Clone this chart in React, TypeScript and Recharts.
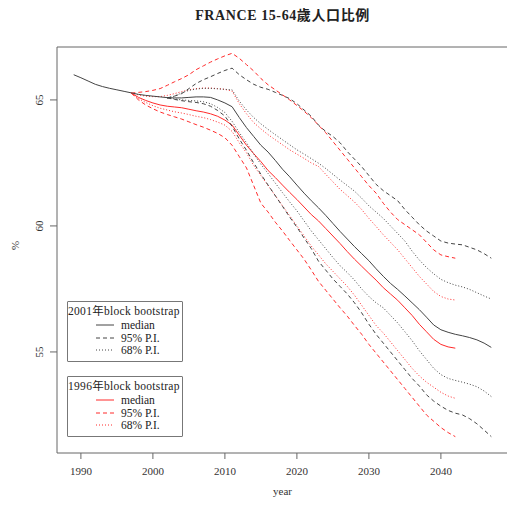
import { LineChart, Line, XAxis, YAxis, ReferenceArea, Legend } from 'recharts';

// annual points, black run 1989-2047, red (1996 model) 1997-2042, black intervals 2002-2047
const blackYears = Array.from({ length: 59 }, (_, i) => 1989 + i);
const redStart = 1997;
const bandStart = 2002;

const blackMedian = [
    66.0, 65.88, 65.75, 65.62, 65.53, 65.46, 65.4, 65.34, 65.28, 65.22,
    65.18, 65.15, 65.12, 65.09, 65.08, 65.08, 65.1, 65.12, 65.12, 65.1,
    65.0, 64.88, 64.73, 64.3, 63.9, 63.55, 63.2, 62.93, 62.6, 62.25,
    61.95, 61.62, 61.3, 61.0, 60.72, 60.42, 60.1, 59.78, 59.48, 59.18,
    58.9, 58.62, 58.3, 58.0, 57.72, 57.48, 57.22, 56.95, 56.68, 56.38,
    56.07, 55.88, 55.78, 55.7, 55.64, 55.57, 55.48, 55.35, 55.18,
];
const black95Up = [
    65.08, 65.15, 65.25, 65.45, 65.65, 65.8, 65.92, 66.05, 66.17, 66.26,
    66.0, 65.8, 65.62, 65.5, 65.42, 65.3, 65.18, 65.05, 64.85, 64.6,
    64.35, 64.0, 63.75, 63.55, 63.3, 62.95, 62.65, 62.35, 62.0, 61.65,
    61.4, 61.2, 61.0, 60.65, 60.35, 60.05, 59.8, 59.6, 59.4, 59.32,
    59.28, 59.25, 59.15, 59.05, 58.9, 58.72,
];
const black68Up = [
    65.08, 65.15, 65.28, 65.38, 65.43, 65.46, 65.46, 65.44, 65.42, 65.4,
    64.95, 64.6, 64.3, 64.05, 63.83, 63.62, 63.42, 63.22, 63.02, 62.85,
    62.67, 62.49, 62.28, 62.05, 61.82, 61.6, 61.38, 61.1, 60.8, 60.55,
    60.3, 60.0, 59.7, 59.4, 59.0, 58.65, 58.35, 58.1, 57.88, 57.75,
    57.65, 57.58, 57.48, 57.35, 57.22, 57.1,
];
const black68Low = [
    65.08, 65.04, 65.0, 64.98, 64.96, 64.93, 64.85, 64.7, 64.5, 64.15,
    63.7, 63.3, 62.85, 62.45, 62.08, 61.7, 61.32, 60.95, 60.6, 60.2,
    59.8, 59.45, 59.1, 58.75, 58.42, 58.15, 57.85, 57.5, 57.2, 56.95,
    56.75, 56.45, 56.15, 55.8, 55.45, 55.05, 54.7, 54.35, 54.1, 53.95,
    53.87, 53.8, 53.72, 53.62, 53.45, 53.23,
];
const black95Low = [
    65.08, 65.02, 64.97, 64.93, 64.9, 64.85, 64.75, 64.58, 64.36, 63.95,
    63.45, 63.0, 62.5, 62.05, 61.62, 61.2, 60.78, 60.35, 59.95, 59.52,
    59.1, 58.6, 58.25, 57.9, 57.6, 57.3, 56.95, 56.55, 56.1, 55.7,
    55.35, 55.0, 54.65, 54.3, 53.95, 53.65, 53.3, 53.05, 52.85, 52.68,
    52.57, 52.5, 52.35, 52.15, 51.9, 51.64,
];

const redMedian = [
    65.27, 65.1, 64.98, 64.88, 64.8, 64.75, 64.72, 64.69, 64.63, 64.57,
    64.52, 64.45, 64.35, 64.2, 64.0, 63.6, 63.2, 62.87, 62.55, 62.2,
    61.92, 61.62, 61.33, 61.05, 60.75, 60.45, 60.2, 59.9, 59.6, 59.3,
    58.98, 58.68, 58.4, 58.12, 57.85, 57.55, 57.3, 57.05, 56.75, 56.45,
    56.1, 55.8, 55.5, 55.3, 55.2, 55.15,
];
const red95Up = [
    65.27, 65.3, 65.33, 65.38, 65.45, 65.58, 65.72, 65.85, 66.0, 66.2,
    66.35, 66.5, 66.63, 66.75, 66.85, 66.65, 66.4, 66.15, 65.85, 65.6,
    65.4, 65.2, 65.0, 64.78, 64.55, 64.3, 64.0, 63.7, 63.35, 63.0,
    62.65, 62.3, 61.95, 61.6, 61.3, 60.9, 60.55, 60.25, 60.05, 59.85,
    59.65, 59.35, 59.05, 58.85, 58.78, 58.72,
];
const red68Up = [
    65.27, 65.2, 65.15, 65.13, 65.13, 65.18, 65.25, 65.33, 65.4, 65.45,
    65.47, 65.47, 65.45, 65.42, 65.35, 64.85, 64.45, 64.1, 63.85, 63.62,
    63.42, 63.22, 63.02, 62.85, 62.68, 62.5, 62.36, 62.05, 61.75, 61.45,
    61.2, 60.95, 60.65, 60.3, 59.98, 59.65, 59.35, 59.05, 58.7, 58.35,
    58.0, 57.7, 57.4, 57.2, 57.1, 57.06,
];
const red68Low = [
    65.27, 65.05, 64.9, 64.77, 64.67, 64.6, 64.53, 64.48, 64.42, 64.35,
    64.3, 64.22, 64.12, 64.0, 63.75, 63.3, 62.9, 62.4, 62.0, 61.6,
    61.2, 60.8, 60.4, 60.0, 59.6, 59.2, 58.85, 58.5, 58.2, 57.9,
    57.6, 57.25, 56.85, 56.45, 56.05, 55.75, 55.4, 55.05, 54.7, 54.35,
    54.05, 53.8, 53.6, 53.4, 53.25, 53.16,
];
const red95Low = [
    65.27, 65.0, 64.8, 64.65, 64.52, 64.42, 64.33, 64.24, 64.13, 64.02,
    63.92, 63.8, 63.67, 63.5, 63.2, 62.75, 62.3, 61.6, 60.9, 60.55,
    60.15, 59.8, 59.42, 59.05, 58.68, 58.25, 57.8, 57.45, 57.1, 56.75,
    56.42, 56.05, 55.7, 55.3, 54.95, 54.6, 54.25, 53.9, 53.55, 53.2,
    52.85, 52.5, 52.25, 52.0, 51.8, 51.64,
];

const xTicks = [1990, 2000, 2010, 2020, 2030, 2040];
const yTicks = [55, 60, 65];

const pick = (arr: number[], start: number, yr: number) => {
    const v = arr[yr - start];
    return v === undefined ? null : v;
};

const rows = blackYears.map((yr, i) => ({
    year: yr,
    bMed: blackMedian[i],
    b95u: pick(black95Up, bandStart, yr),
    b68u: pick(black68Up, bandStart, yr),
    b68l: pick(black68Low, bandStart, yr),
    b95l: pick(black95Low, bandStart, yr),
    rMed: pick(redMedian, redStart, yr),
    r95u: pick(red95Up, redStart, yr),
    r68u: pick(red68Up, redStart, yr),
    r68l: pick(red68Low, redStart, yr),
    r95l: pick(red95Low, redStart, yr),
}));

const X_DOMAIN: [number, number] = [1986.68, 2049.32];
const Y_DOMAIN: [number, number] = [50.99, 67.1];

const SERIF = '"Liberation Serif", "DejaVu Serif", "Noto Sans CJK TC", serif';
const INK = '#333';
const BLACK = '#444';
const RED = '#ff2a2a';
const DASH = '4 3';
const DOT = '1 2';

const YTick = ({ x, y, payload }: any) => (
    <text x={x} y={y} transform={`rotate(-90 ${x} ${y})`} textAnchor="middle"
        fontFamily={SERIF} fontSize={11} fill={INK}>{payload.value}</text>
);

const Sample = ({ color, dash }: { color: string; dash?: string }) => (
    <svg width={18} height={6} style={{ position: 'absolute', left: 28, top: -3 }}>
        <line x1={0} y1={3} x2={18} y2={3} stroke={color} strokeWidth={1} strokeDasharray={dash} />
    </svg>
);

const LegendBox = ({ title, color, top }: { title: string; color: string; top: number }) => {
    const entries = [
        { label: 'median', dash: undefined, y: 24 },
        { label: '95% P.I.', dash: DASH, y: 37 },
        { label: '68% P.I.', dash: DOT, y: 49 },
    ];
    return (
        <div style={{
            position: 'absolute', left: 0, top, width: 116, height: 61, boxSizing: 'border-box',
            border: '1px solid #777', borderRadius: 1, background: '#fff',
            fontFamily: SERIF, fontSize: 11.5, color: '#222', lineHeight: '12px', whiteSpace: 'nowrap'
        }}>
            <div style={{ position: 'absolute', left: 0, top: 3, letterSpacing: 0.3 }}>{title}</div>
            {entries.map((e) => (
                <div key={e.label} style={{ position: 'absolute', left: 0, top: e.y - 1 }}>
                    <Sample color={color} dash={e.dash} />
                    <span style={{ position: 'absolute', left: 53, top: -6 }}>{e.label}</span>
                </div>
            ))}
        </div>
    );
};

const renderLegend = () => (
    <div style={{ position: 'relative', width: 116, height: 137 }}>
        <LegendBox title="2001年block bootstrap" color={BLACK} top={0} />
        <LegendBox title="1996年block bootstrap" color={RED} top={75} />
    </div>
);

export default function App() {
    return (
        <div style={{ position: 'absolute', left: 0, top: 0, width: 507, height: 508, overflow: 'hidden', background: '#fff' }}>
            <div style={{
                position: 'absolute', left: 57, top: 4, width: 451, textAlign: 'center',
                fontFamily: SERIF, fontSize: 14, fontWeight: 'bold', letterSpacing: 0.6, color: '#222'
            }}>
                FRANCE 15-64歲人口比例
            </div>
            <LineChart width={520} height={508} data={rows} margin={{ top: 47, right: 12, bottom: 0, left: 0 }}>
                <XAxis dataKey="year" type="number" domain={X_DOMAIN} ticks={xTicks} allowDataOverflow
                    height={55} axisLine={false} tickLine={{ stroke: '#666' }} tickSize={6} tickMargin={8}
                    tick={{ fontSize: 11, fill: INK, fontFamily: SERIF }}
                    label={{ value: 'year', position: 'insideBottom', offset: 13, fontSize: 11, fill: INK, fontFamily: SERIF }} />
                <YAxis type="number" domain={Y_DOMAIN} ticks={yTicks} allowDataOverflow width={57}
                    axisLine={false} tickLine={{ stroke: '#666' }} tickSize={7} tickMargin={7} tick={<YTick />}
                    label={{ value: '%', angle: -90, position: 'insideLeft', offset: 15, fontSize: 11, fill: INK, fontFamily: SERIF }} />
                <ReferenceArea x1={X_DOMAIN[0]} x2={X_DOMAIN[1]} y1={Y_DOMAIN[0]} y2={Y_DOMAIN[1]}
                    fill="none" stroke="#666" strokeWidth={1} ifOverflow="visible" />
                <Legend layout="vertical" align="center" verticalAlign="middle" content={renderLegend}
                    wrapperStyle={{ left: 67, top: 301, width: 116, height: 137 }} />

                <Line dataKey="r95u" stroke={RED} strokeWidth={1} strokeDasharray={DASH} dot={false} isAnimationActive={false} />
                <Line dataKey="r68u" stroke={RED} strokeWidth={1} strokeDasharray={DOT} dot={false} isAnimationActive={false} />
                <Line dataKey="rMed" stroke={RED} strokeWidth={1} dot={false} isAnimationActive={false} />
                <Line dataKey="r68l" stroke={RED} strokeWidth={1} strokeDasharray={DOT} dot={false} isAnimationActive={false} />
                <Line dataKey="r95l" stroke={RED} strokeWidth={1} strokeDasharray={DASH} dot={false} isAnimationActive={false} />

                <Line dataKey="b95u" stroke={BLACK} strokeWidth={1} strokeDasharray={DASH} dot={false} isAnimationActive={false} />
                <Line dataKey="b68u" stroke={BLACK} strokeWidth={1} strokeDasharray={DOT} dot={false} isAnimationActive={false} />
                <Line dataKey="bMed" stroke={BLACK} strokeWidth={1} dot={false} isAnimationActive={false} />
                <Line dataKey="b68l" stroke={BLACK} strokeWidth={1} strokeDasharray={DOT} dot={false} isAnimationActive={false} />
                <Line dataKey="b95l" stroke={BLACK} strokeWidth={1} strokeDasharray={DASH} dot={false} isAnimationActive={false} />
            </LineChart>
        </div>
    );
}
